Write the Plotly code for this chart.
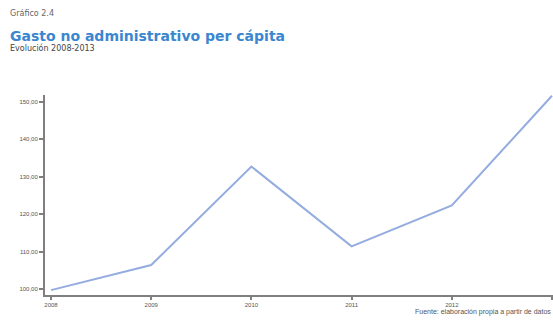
import plotly.graph_objects as go

# Series: non-administrative spending per capita, 2008-2013
years = [2008, 2009, 2010, 2011, 2012, 2013]
gasto = [99.7, 106.4, 132.7, 111.4, 122.3, 151.6]

y_ticks = [100, 110, 120, 130, 140, 150]
y_tick_labels = ["100,00", "110,00", "120,00", "130,00", "140,00", "150,00"]

header = "Gráfico 2.4"
title = "Gasto no administrativo per cápita"
subtitle = "Evolución 2008-2013"
source = "Fuente: elaboración propia a partir de datos"

fig = go.Figure()
fig.add_trace(go.Scatter(
    x=years, y=gasto, mode="lines",
    line=dict(color="#94acdf", width=2),
    hoverinfo="x+y", showlegend=False,
))

axis_color = "#7f7f7f"
tick_font = dict(family="Liberation Sans, Arial, sans-serif", size=6, color="#555555")
sans = "DejaVu Sans, Verdana, sans-serif"

fig.update_layout(
    width=553, height=327,
    margin=dict(l=45, r=0, t=95, b=32),
    paper_bgcolor="white", plot_bgcolor="white",
    xaxis=dict(
        range=[2007.94, 2013.01],
        tickvals=years, ticktext=[str(y) for y in years],
        showgrid=False, zeroline=False,
        showline=True, linecolor=axis_color, linewidth=2,
        ticks="outside", ticklen=3, tickwidth=1.5, tickcolor=axis_color,
        ticklabelstandoff=0,
        tickfont=tick_font,
    ),
    yaxis=dict(
        range=[98.4, 151.8],
        tickvals=y_ticks, ticktext=y_tick_labels,
        showgrid=False, zeroline=False,
        showline=True, linecolor=axis_color, linewidth=2,
        ticks="outside", ticklen=4, tickwidth=1.5, tickcolor=axis_color,
        tickfont=tick_font,
    ),
    annotations=[
        dict(text=header, xref="paper", yref="paper", x=-0.073, y=1.41,
             xanchor="left", yanchor="middle", showarrow=False,
             font=dict(family=sans, size=8, color="#666666")),
        dict(text="<b>" + title + "</b>", xref="paper", yref="paper", x=-0.073, y=1.295,
             xanchor="left", yanchor="middle", showarrow=False,
             font=dict(family=sans, size=14, color="#3a86cf")),
        dict(text=subtitle, xref="paper", yref="paper", x=-0.073, y=1.235,
             xanchor="left", yanchor="middle", showarrow=False,
             font=dict(family=sans, size=8, color="#444444")),
        dict(text=source, xref="paper", yref="paper", x=1.0, y=-0.085,
             xanchor="right", yanchor="middle", showarrow=False,
             font=dict(family="Liberation Sans, Arial, sans-serif", size=7, color="#555555")),
    ],
)

fig.write_html("out.html")
